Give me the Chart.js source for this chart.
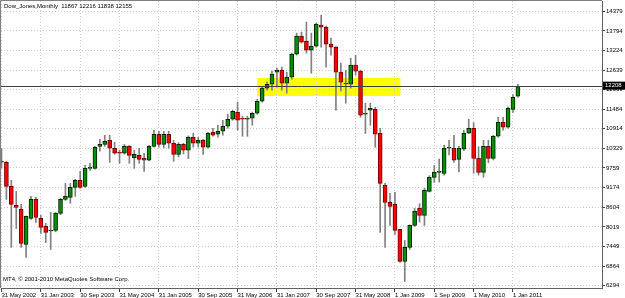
<!DOCTYPE html>
<html>
<head>
<meta charset="utf-8">
<script src="https://cdn.jsdelivr.net/npm/chart.js@4.4.0/dist/chart.umd.min.js"></script>
<style>
	html, body { margin: 0; padding: 0; background: #fff; }
	#wrap { width: 625px; height: 298px; }
</style>
</head>
<body>
<div id="wrap"><canvas id="chart" width="625" height="298"></canvas></div>
<script>
// monthly bars, May 2002 .. Feb 2011
const months = [
	'2002-05', '2002-06', '2002-07', '2002-08', '2002-09', '2002-10', '2002-11', '2002-12',
	'2003-01', '2003-02', '2003-03', '2003-04', '2003-05', '2003-06', '2003-07', '2003-08', '2003-09', '2003-10', '2003-11', '2003-12',
	'2004-01', '2004-02', '2004-03', '2004-04', '2004-05', '2004-06', '2004-07', '2004-08', '2004-09', '2004-10', '2004-11', '2004-12',
	'2005-01', '2005-02', '2005-03', '2005-04', '2005-05', '2005-06', '2005-07', '2005-08', '2005-09', '2005-10', '2005-11', '2005-12',
	'2006-01', '2006-02', '2006-03', '2006-04', '2006-05', '2006-06', '2006-07', '2006-08', '2006-09', '2006-10', '2006-11', '2006-12',
	'2007-01', '2007-02', '2007-03', '2007-04', '2007-05', '2007-06', '2007-07', '2007-08', '2007-09', '2007-10', '2007-11', '2007-12',
	'2008-01', '2008-02', '2008-03', '2008-04', '2008-05', '2008-06', '2008-07', '2008-08', '2008-09', '2008-10', '2008-11', '2008-12',
	'2009-01', '2009-02', '2009-03', '2009-04', '2009-05', '2009-06', '2009-07', '2009-08', '2009-09', '2009-10', '2009-11', '2009-12',
	'2010-01', '2010-02', '2010-03', '2010-04', '2010-05', '2010-06', '2010-07', '2010-08', '2010-09', '2010-10', '2010-11', '2010-12',
	'2011-01', '2011-02'
]

const opens = [
	9960, 9925, 9214, 8654, 8536, 7503, 8270, 8831,
	8270, 8034, 7900, 7916, 8418, 8831, 8890, 9185, 9392, 9214, 9745, 9745,
	10394, 10453, 10571, 10336, 10200, 10188, 10394, 10060, 10129, 10040, 9982, 10394,
	10748, 10453, 10748, 10483, 10158, 10453, 10277, 10660, 10483, 10571, 10365, 10807,
	10748, 10837, 10985, 11191, 11397, 11205, 11191, 11221, 11368, 11722, 12106, 12223,
	12577, 12636, 12253, 12430, 13108, 13640, 13492, 13226, 13344, 13964, 13905, 13403,
	13315, 12577, 12253, 12223, 12784, 12607, 11338, 11457, 11486, 10778, 9244, 8743,
	8683, 7946, 7002, 7415, 8064, 8565, 8359, 9067, 9480, 9627, 9598, 10336,
	10336, 10011, 10306, 10778, 10925, 10040, 9627, 10394, 10040, 10689, 11102, 10955,
	11480, 11867
]
const highs = [
	10330, 9950, 9390, 9067, 8683, 8340, 8920, 8890,
	8359, 8123, 8447, 8447, 8860, 9303, 9303, 9420, 9657, 9834, 9893, 10394,
	10600, 10719, 10719, 10510, 10277, 10450, 10420, 10277, 10336, 10188, 10424, 10866,
	10837, 10837, 10837, 10571, 10500, 10483, 10700, 10780, 10660, 10601, 10807, 10925,
	11014, 11161, 11338, 11457, 11692, 11280, 11280, 11400, 11780, 12135, 12282, 12607,
	12700, 12725, 12577, 13138, 13728, 13757, 14053, 13728, 14023, 14259, 13935, 13580,
	13330, 12843, 12636, 12990, 13079, 12636, 11663, 11663, 11545, 10925, 9303, 9008,
	9037, 7946, 7621, 8080, 8565, 8703, 9155, 9530, 9830, 10020, 10424, 10570,
	10720, 10390, 10866, 11190, 11090, 10380, 10570, 10570, 10720, 11250, 11250, 11560,
	11915, 12216
]
const lows = [
	9750, 8830, 7415, 7975, 7415, 7120, 8240, 8152,
	7828, 7562, 7356, 7880, 8380, 8800, 8713, 8920, 9155, 9185, 9686, 9720,
	10250, 10394, 9922, 10158, 9893, 10160, 9893, 9745, 9893, 9657, 9960, 10365,
	10365, 10350, 10336, 9952, 10080, 10170, 10030, 10370, 10370, 10158, 10336, 10690,
	10660, 10720, 10925, 11161, 10866, 10689, 10689, 11014, 11338, 11692, 12047, 12047,
	12135, 12047, 11958, 12371, 13079, 13433, 13138, 12548, 13315, 13315, 12725, 13079,
	11457, 12017, 11663, 12106, 12489, 11250, 10770, 11014, 10365, 7857, 7415, 8064,
	7800, 6980, 6412, 7356, 8034, 8162, 8064, 9050, 9330, 9340, 9540, 10140,
	9922, 9640, 10270, 10770, 9600, 9545, 9480, 9910, 9990, 10660, 10870, 10930,
	11390, 11838
]
const closes = [
	9925, 9214, 8683, 8595, 7533, 8329, 8831, 8300,
	8005, 7857, 7916, 8418, 8831, 8920, 9185, 9392, 9185, 9745, 9775, 10365,
	10453, 10542, 10336, 10188, 10190, 10394, 10129, 10160, 10011, 9982, 10394, 10748,
	10453, 10748, 10483, 10158, 10453, 10277, 10660, 10483, 10571, 10365, 10778, 10719,
	10837, 10985, 11191, 11427, 11161, 11191, 11221, 11368, 11722, 12106, 12223, 12518,
	12636, 12253, 12430, 13108, 13640, 13462, 13226, 13344, 13994, 13905, 13403, 13315,
	12577, 12282, 12230, 12784, 12607, 11309, 11350, 11515, 10748, 9303, 8743, 8624,
	7916, 7002, 7415, 8064, 8477, 8359, 9097, 9480, 9627, 9640, 10336, 10350,
	9982, 10336, 10778, 10925, 10040, 9627, 10394, 10040, 10689, 11102, 10955, 11515,
	11840, 12155
]

// time scale labels (every 8th bar) and price scale labels
const xTickBars = [0, 8, 16, 24, 32, 40, 48, 56, 64, 72, 80, 88, 96, 104]
const xTickLabels = ['31 May 2002', '31 Jan 2003', '30 Sep 2003', '31 May 2004', '31 Jan 2005', '30 Sep 2005', '31 May 2006',
	'31 Jan 2007', '30 Sep 2007', '31 May 2008', '1 Jan 2009', '1 Sep 2009', '1 May 2010', '1 Jan 2011']
const yTickValues = [6294, 6864, 7449, 8019, 8604, 9174, 9759, 10329, 10914, 11484, 12069, 12639, 13224, 13794, 14379]

const symbolTitle = 'Dow_Jones,Monthly'
const copyright = 'MT4, \u00a9 2001-2010 MetaQuotes Software Corp.'
const bidPrice = 12180
const bidLabel = '12208'
// yellow rectangle object: from bar to bar, price band
const zone = { fromBar: 52, toBar: 81.1, top: 12406, bottom: 11876 }

const FONT = { family: 'Liberation Sans', size: 6 }
const bullFill = '#009000'
const bearFill = '#ff0000'

const bodies = opens.map((o, i) => ({ x: i, y: [o, closes[i]] }))
const wicks = lows.map((l, i) => ({ x: i, y: [l, highs[i]] }))
const isBull = opens.map((o, i) => closes[i] >= o)

const noPadding = scale => {
	scale.paddingTop = 0
	scale.paddingBottom = 0
	scale.paddingLeft = 0
	scale.paddingRight = 0
}

const mtPlugin = {
	id: 'mt4',
	beforeDraw(chart) {
		const { ctx, scales: { x, y } } = chart
		ctx.save()
		ctx.fillStyle = '#fff'
		ctx.fillRect(0, 0, chart.width, chart.height)
		ctx.fillStyle = '#ffff00'
		const x1 = x.getPixelForValue(zone.fromBar), x2 = x.getPixelForValue(zone.toBar)
		const y1 = y.getPixelForValue(zone.top), y2 = y.getPixelForValue(zone.bottom)
		ctx.fillRect(x1, y1, x2 - x1, y2 - y1)
		ctx.restore()
	},
	afterDatasetsDraw(chart) {
		const { ctx, chartArea, scales: { y } } = chart
		const py = Math.round(y.getPixelForValue(bidPrice)) + 0.5
		ctx.save()
		ctx.strokeStyle = '#404040'
		ctx.lineWidth = 1
		ctx.beginPath()
		ctx.moveTo(chartArea.left, py)
		ctx.lineTo(chartArea.right, py)
		ctx.stroke()
		ctx.restore()
	},
	afterDraw(chart) {
		const { ctx, chartArea, scales: { y } } = chart
		ctx.save()
		// frame
		ctx.strokeStyle = '#808080'
		ctx.lineWidth = 1
		ctx.beginPath()
		ctx.moveTo(0.5, chartArea.bottom)
		ctx.lineTo(0.5, 0.5)
		ctx.lineTo(chartArea.right, 0.5)
		ctx.stroke()
		// bid label
		const py = y.getPixelForValue(bidPrice)
		ctx.fillStyle = '#000'
		ctx.fillRect(chartArea.right + 1, py - 4, 22, 8)
		ctx.fillStyle = '#fff'
		ctx.font = `${FONT.size}px "${FONT.family}"`
		ctx.textBaseline = 'middle'
		ctx.fillText(bidLabel, chartArea.right + 3, py)
		// texts
		ctx.fillStyle = '#000'
		const last = opens.length - 1
		ctx.fillText(`${symbolTitle}  ${opens[last]} ${highs[last]} ${lows[last]} ${closes[last]}`, 4, 6)
		ctx.fillText(copyright, 3, chartArea.bottom - 9)
		ctx.restore()
	}
}

new Chart(document.getElementById('chart'), {
	type: 'bar',
	data: {
		datasets: [
			{
				label: 'body',
				data: bodies,
				backgroundColor: isBull.map(b => b ? bullFill : bearFill),
				borderColor: isBull.map(b => b ? '#002000' : '#700000'),
				borderWidth: 1,
				borderSkipped: false,
				barThickness: 4,
				minBarLength: 1,
			},
			{
				label: 'wick',
				data: wicks,
				backgroundColor: '#808080',
				borderWidth: 0,
				barThickness: 1,
			},
		]
	},
	options: {
		responsive: false,
		animation: false,
		devicePixelRatio: 1,
		layout: { padding: { left: 1, top: 1, right: 0, bottom: 0 } },
		datasets: { bar: { grouped: false } },
		plugins: { legend: { display: false }, tooltip: { enabled: false } },
		scales: {
			x: {
				type: 'linear',
				min: -0.1,
				max: 122.1,
				offset: false,
				afterBuildTicks: scale => { scale.ticks = xTickBars.map(v => ({ value: v })) },
				afterFit: scale => { scale.height = 10; noPadding(scale) },
				ticks: {
					align: 'start',
					autoSkip: false,
					maxRotation: 0,
					padding: 0,
					color: '#000',
					font: FONT,
					callback: (value, index) => xTickLabels[index],
				},
				grid: { color: '#d4d0c8', offset: false, tickLength: 4, tickColor: '#404040', tickBorderDash: [] },
				border: { color: '#606060', dash: [1, 2] },
			},
			y: {
				position: 'right',
				min: 6220,
				max: 14674,
				afterBuildTicks: scale => { scale.ticks = yTickValues.map(v => ({ value: v })) },
				afterFit: scale => { scale.width = 23; noPadding(scale) },
				ticks: {
					padding: 1,
					color: '#000',
					font: FONT,
					callback: value => String(value),
				},
				grid: { color: '#d4d0c8', tickLength: 3, tickColor: '#404040', tickBorderDash: [] },
				border: { color: '#606060', dash: [1, 2] },
			}
		}
	},
	plugins: [mtPlugin]
});
</script>
</body>
</html>
